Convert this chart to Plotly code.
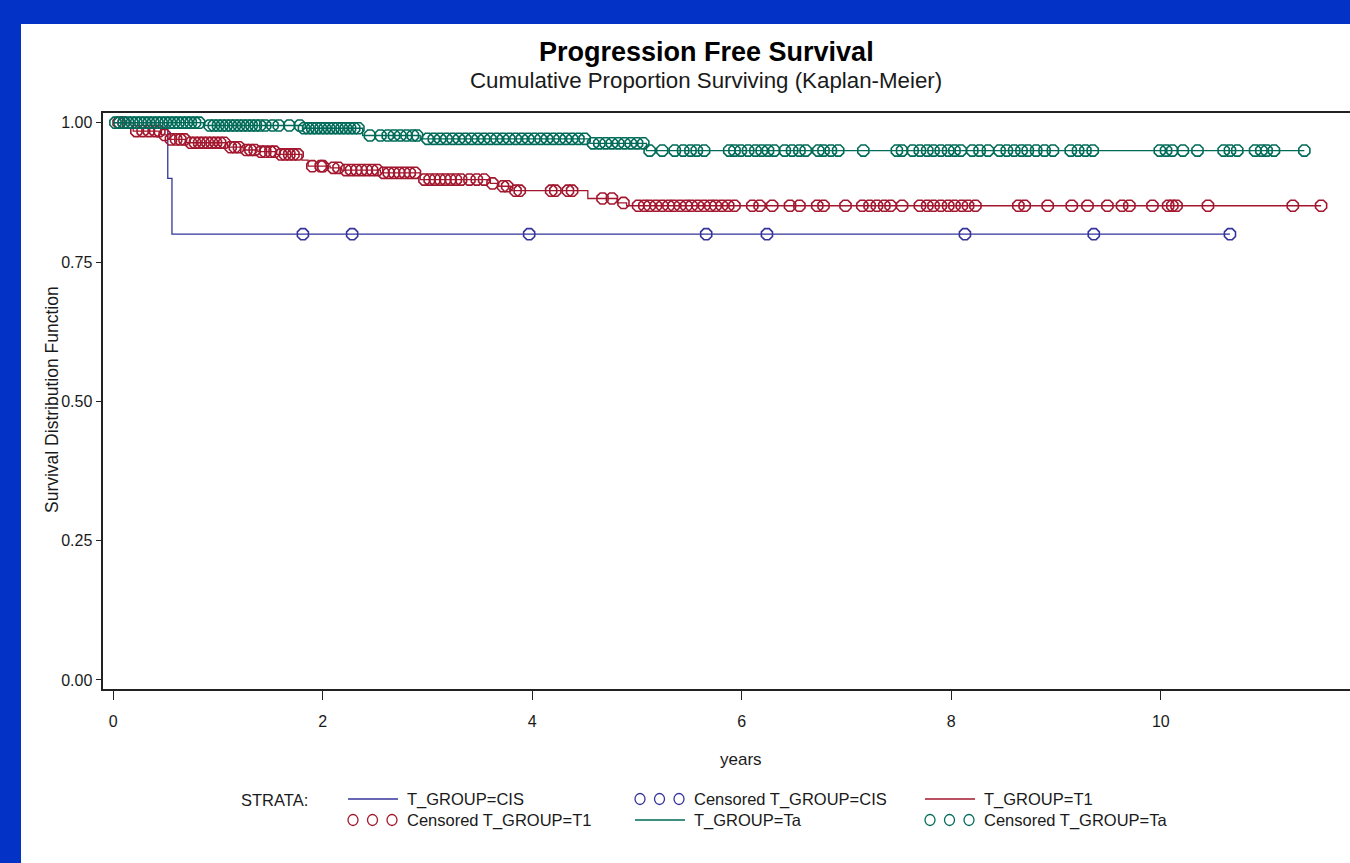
import numpy as np
import plotly.graph_objects as go

W, H = 1350, 863

# ---------------- data (years / survival probability) ----------------
x_ticks = [0, 2, 4, 6, 8, 10]
y_ticks = [0.0, 0.25, 0.50, 0.75, 1.00]
y_tick_labels = ["0.00", "0.25", "0.50", "0.75", "1.00"]

cis_event_t = [0.0, 0.52, 0.56]
cis_surv = [1.0, 0.90, 0.80]
cis_last = 10.66
cis_cens = [1.81, 2.28, 3.97, 5.66, 6.24, 8.13, 9.36, 10.66]

t1_event_t = [0.0, 0.19, 0.46, 0.52, 0.70, 1.09, 1.24, 1.38, 1.56, 1.80, 1.86,
              2.07, 2.18, 2.55, 2.93, 3.60, 3.68, 3.79, 4.53, 4.81, 4.90]
t1_surv = [1.0, 0.985, 0.978, 0.970, 0.964, 0.956, 0.951, 0.948, 0.943, 0.933, 0.922,
           0.919, 0.915, 0.910, 0.898, 0.891, 0.886, 0.878, 0.864, 0.856, 0.851]
t1_last = 11.53
t1_cens = [0.05, 0.10, 0.22, 0.28, 0.34, 0.40, 0.44, 0.49, 0.55, 0.60, 0.64, 0.68,
           0.74, 0.78, 0.82, 0.86, 0.90, 0.94, 0.98, 1.02, 1.06, 1.12, 1.16, 1.20,
           1.27, 1.31, 1.35, 1.41, 1.45, 1.50, 1.54, 1.60, 1.64, 1.68, 1.72, 1.76,
           1.90, 1.98, 2.00, 2.10, 2.15, 2.22, 2.27, 2.32, 2.37, 2.42, 2.47, 2.52,
           2.58, 2.63, 2.68, 2.73, 2.78, 2.83, 2.88, 2.97, 3.02, 3.07, 3.12, 3.17,
           3.22, 3.27, 3.32, 3.40, 3.47, 3.54, 3.62, 3.72, 3.76, 3.84, 3.88, 4.18,
           4.22, 4.34, 4.38, 4.67, 4.76, 4.87, 5.01, 5.07, 5.12, 5.18, 5.24, 5.30,
           5.35, 5.41, 5.47, 5.52, 5.58, 5.64, 5.70, 5.75, 5.81, 5.87, 5.93, 6.10,
           6.17, 6.29, 6.46, 6.55, 6.72, 6.78, 6.99, 7.15, 7.22, 7.29, 7.36, 7.42,
           7.53, 7.70, 7.77, 7.83, 7.90, 7.97, 8.03, 8.10, 8.16, 8.23, 8.64, 8.70,
           8.92, 9.15, 9.30, 9.49, 9.63, 9.70, 9.92, 10.07, 10.11, 10.15, 10.45,
           11.26, 11.53]

ta_event_t = [0.0, 0.86, 1.81, 2.38, 2.93, 4.55, 5.09]
ta_surv = [1.0, 0.995, 0.990, 0.977, 0.971, 0.963, 0.950]
ta_last = 11.37
ta_cens = [0.02, 0.06, 0.10, 0.14, 0.18, 0.22, 0.26, 0.30, 0.34, 0.38, 0.42, 0.46,
           0.50, 0.54, 0.58, 0.62, 0.66, 0.70, 0.74, 0.78, 0.82, 0.92, 0.96, 1.00,
           1.04, 1.08, 1.12, 1.16, 1.20, 1.24, 1.28, 1.32, 1.36, 1.40, 1.45, 1.52,
           1.58, 1.68, 1.78, 1.82, 1.86, 1.90, 1.94, 1.98, 2.02, 2.06, 2.10, 2.14,
           2.18, 2.22, 2.26, 2.30, 2.34, 2.45, 2.55, 2.62, 2.68, 2.74, 2.80, 2.86,
           2.90, 3.00, 3.06, 3.12, 3.18, 3.24, 3.30, 3.36, 3.42, 3.48, 3.54, 3.60,
           3.66, 3.72, 3.78, 3.84, 3.90, 3.96, 4.02, 4.08, 4.14, 4.20, 4.26, 4.32,
           4.38, 4.44, 4.50, 4.58, 4.64, 4.70, 4.76, 4.82, 4.88, 4.94, 5.00, 5.06,
           5.12, 5.24, 5.36, 5.44, 5.51, 5.57, 5.64, 5.88, 5.93, 5.99, 6.06, 6.13,
           6.19, 6.25, 6.31, 6.41, 6.48, 6.55, 6.61, 6.73, 6.78, 6.85, 6.92, 7.16,
           7.48, 7.53, 7.63, 7.70, 7.77, 7.83, 7.90, 7.97, 8.03, 8.09, 8.20, 8.27,
           8.35, 8.46, 8.53, 8.60, 8.67, 8.73, 8.81, 8.89, 8.97, 9.14, 9.21, 9.28,
           9.35, 9.99, 10.05, 10.11, 10.21, 10.35, 10.60, 10.66, 10.73, 10.90,
           10.96, 11.01, 11.08, 11.37]

groups = ["CIS", "T1", "Ta"]
colors = {"CIS": "#34349a", "T1": "#a3172e", "Ta": "#006b58"}

series = {
    "CIS": (cis_event_t, cis_surv, cis_last, cis_cens),
    "T1": (t1_event_t, t1_surv, t1_last, t1_cens),
    "Ta": (ta_event_t, ta_surv, ta_last, ta_cens),
}

FONT = "Liberation Sans, Arial, Helvetica, sans-serif"
TXT = "#1a1a1a"
AX = "#222222"


def px_x(p):
    return p / W


def px_y(p):
    return 1 - p / H


fig = go.Figure()

for g in groups:
    et, sv, last, cens = series[g]
    xs = list(et) + [last]
    ys = list(sv) + [sv[-1]]
    fig.add_trace(go.Scatter(x=xs, y=ys, mode="lines", line_shape="hv",
                             line=dict(color=colors[g], width=1.3),
                             showlegend=False, hoverinfo="skip"))
    idx = np.searchsorted(np.array(et), np.array(cens), side="right") - 1
    cy = np.array(sv)[idx]
    fig.add_trace(go.Scatter(x=cens, y=cy, mode="markers",
                             marker=dict(symbol="octagon-open", size=12,
                                         color=colors[g],
                                         line=dict(color=colors[g], width=1.6)),
                             showlegend=False, hoverinfo="skip"))

# ---------------- layout ----------------
x_left, x_right = 103.3, 1350
y_top, y_bot = 113, 689

fig.update_layout(
    width=W, height=H,
    margin=dict(l=0, r=0, t=0, b=0),
    paper_bgcolor="white", plot_bgcolor="white",
    showlegend=False,
    font=dict(family=FONT, color=TXT, size=16),
    xaxis=dict(domain=[px_x(x_left), px_x(x_right)], range=[-0.0955, 11.806],
               tickvals=x_ticks, ticktext=[str(v) for v in x_ticks],
               ticks="outside", ticklen=9, tickwidth=1.3, tickcolor=AX,
               ticklabelstandoff=8,
               showline=True, linecolor=AX, linewidth=1.6, mirror=True,
               showgrid=False, zeroline=False,
               tickfont=dict(size=16, family=FONT, color=TXT)),
    yaxis=dict(domain=[px_y(y_bot), px_y(y_top)], range=[-0.0162, 1.0174],
               tickvals=y_ticks, ticktext=y_tick_labels,
               ticks="outside", ticklen=6, tickwidth=1.3, tickcolor=AX,
               showline=True, linecolor=AX, linewidth=1.6, mirror=False,
               showgrid=False, zeroline=False,
               tickfont=dict(size=16, family=FONT, color=TXT)),
)

annotations = [
    dict(text="<b>Progression Free Survival</b>", x=px_x(706), y=px_y(52),
         font=dict(size=27, family=FONT, color="#000000")),
    dict(text="Cumulative Proportion Surviving (Kaplan-Meier)", x=px_x(706), y=px_y(80),
         font=dict(size=22.3, family=FONT, color=TXT)),
    dict(text="years", x=px_x(741), y=px_y(759), font=dict(size=17, family=FONT, color=TXT)),
    dict(text="Survival Distribution Function", x=px_x(40), y=px_y(400), textangle=-90,
         font=dict(size=17.5, family=FONT, color=TXT)),
    dict(text="STRATA:", x=px_x(239), y=px_y(800), xanchor="left",
         font=dict(size=16.5, family=FONT, color=TXT)),
]

shapes = [
    dict(type="rect", xref="paper", yref="paper", x0=0, x1=px_x(21), y0=0, y1=1,
         fillcolor="#0232c6", line=dict(width=0), layer="below"),
    dict(type="rect", xref="paper", yref="paper", x0=0, x1=1, y0=px_y(24), y1=1,
         fillcolor="#0232c6", line=dict(width=0), layer="below"),
]

# custom legend (3 columns x 2 rows, as in the SAS output)
legend_items = [
    ("line", "CIS", "T_GROUP=CIS"),
    ("marker", "CIS", "Censored T_GROUP=CIS"),
    ("line", "T1", "T_GROUP=T1"),
    ("marker", "T1", "Censored T_GROUP=T1"),
    ("line", "Ta", "T_GROUP=Ta"),
    ("marker", "Ta", "Censored T_GROUP=Ta"),
]
col_x = [348, 635, 925]
row_y = [799, 820]
for i, (kind, g, label) in enumerate(legend_items):
    r, c = divmod(i, 3)
    x0 = col_x[c]
    yc = row_y[r]
    if kind == "line":
        shapes.append(dict(type="line", xref="paper", yref="paper",
                           x0=px_x(x0), x1=px_x(x0 + 50), y0=px_y(yc), y1=px_y(yc),
                           line=dict(color=colors[g], width=1.3)))
    else:
        for k in range(3):
            cx = x0 + 5 + k * 19.5
            shapes.append(dict(type="circle", xref="paper", yref="paper",
                               x0=px_x(cx - 5), x1=px_x(cx + 5),
                               y0=px_y(yc + 5.5), y1=px_y(yc - 5.5),
                               line=dict(color=colors[g], width=1.3)))
    annotations.append(dict(text=label, x=px_x(x0 + 57), y=px_y(yc), xanchor="left",
                            font=dict(size=16.5, family=FONT, color=TXT)))

for a in annotations:
    a.setdefault("xref", "paper")
    a.setdefault("yref", "paper")
    a.setdefault("showarrow", False)
    a.setdefault("yanchor", "middle")

fig.update_layout(annotations=annotations, shapes=shapes)

fig.write_html("out.html", config={"displayModeBar": False},
               post_script="document.body.style.margin='0px';")
